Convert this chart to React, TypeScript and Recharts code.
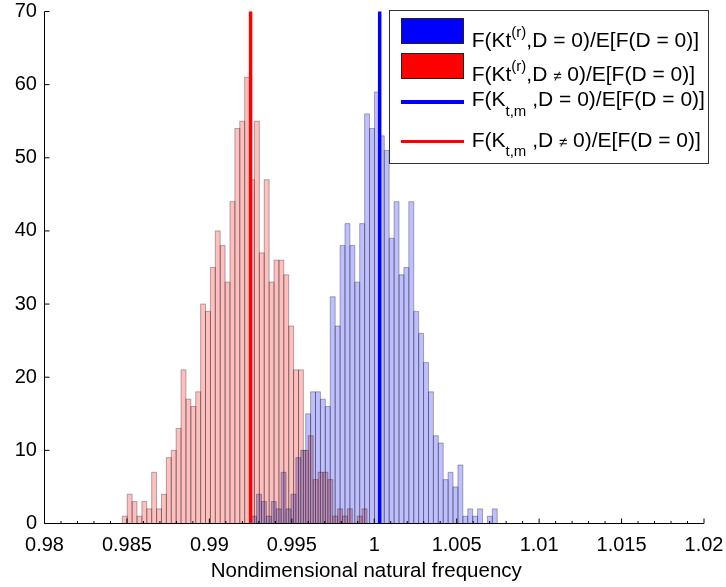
import React from "react";
import {
  ComposedChart,
  XAxis,
  YAxis,
  ReferenceArea,
  ReferenceLine,
  Legend,
} from "recharts";

// histogram counts, 50 equal-width bins per sample set
const redCounts = [
  1, 4, 3, 1, 3, 2, 7, 2, 4, 9, 10, 13, 21, 17, 16, 18, 30, 29, 35, 40, 38, 33,
  44, 54, 55, 61, 47, 55, 37, 47, 33, 36, 36, 34, 27, 21, 21, 10, 12, 6, 7, 7, 6,
  1, 2, 1, 2, 0, 1, 2,
];
const blueCounts = [
  1, 4, 3, 1, 3, 2, 7, 2, 4, 9, 10, 15, 18, 18, 17, 16, 31, 27, 38, 41, 38, 33,
  41, 56, 54, 59, 53, 51, 39, 44, 34, 35, 44, 29, 26, 22, 18, 12, 11, 6, 7, 5, 8,
  1, 2, 1, 2, 0, 1, 2,
];
// sample min / max of each set (hist edges)
const redRange = [0.98472, 0.99956];
const blueRange = [0.992565, 1.007459];
// F(K_t,m) values
const redMean = 0.9925;
const blueMean = 1.00033;

const majorTicks = [0.98, 0.985, 0.99, 0.995, 1, 1.005, 1.01, 1.015, 1.02];
const minorTicks = [
  0.981, 0.982, 0.983, 0.984, 0.986, 0.987, 0.988, 0.989, 0.991, 0.992, 0.993,
  0.994, 0.996, 0.997, 0.998, 0.999, 1.001, 1.002, 1.003, 1.004, 1.006, 1.007,
  1.008, 1.009, 1.011, 1.012, 1.013, 1.014, 1.016, 1.017, 1.018, 1.019,
];
const yTicks = [0, 10, 20, 30, 40, 50, 60, 70];

const FONT = '"Liberation Sans", Arial, Helvetica, sans-serif';

function toBins(counts: number[], range: number[]) {
  const [lo, hi] = range;
  const w = (hi - lo) / counts.length;
  return counts.map((n, i) => ({ x1: lo + i * w, x2: lo + (i + 1) * w, n }));
}

const redBins = toBins(redCounts, redRange);
const blueBins = toBins(blueCounts, blueRange);
const xTicks = [...majorTicks, ...minorTicks].sort((a, b) => a - b);

function XTick(props: any) {
  const { x, y, payload } = props;
  const major = majorTicks.includes(payload.value);
  return (
    <g>
      <line x1={x} x2={x} y1={y} y2={y - (major ? 5 : 2.5)} stroke="#000" />
      {major && (
        <text
          x={x}
          y={y + 27.5}
          textAnchor="middle"
          fontSize={20}
          fontFamily={FONT}
          fill="#000"
        >
          {String(payload.value)}
        </text>
      )}
    </g>
  );
}

function YTick(props: any) {
  const { x, y, payload } = props;
  return (
    <g>
      <line x1={x} x2={x + 5} y1={y} y2={y} stroke="#000" />
      <text
        x={x - 7.5}
        y={y + 5.5}
        textAnchor="end"
        fontSize={20}
        fontFamily={FONT}
        fill="#000"
      >
        {payload.value}
      </text>
    </g>
  );
}

function XLabel(props: any) {
  const { x, y, width } = props.viewBox;
  return (
    <text
      x={x + width / 2 - 8}
      y={y + 53}
      textAnchor="middle"
      fontSize={20.5}
      fontFamily={FONT}
      fill="#000"
    >
      Nondimensional natural frequency
    </text>
  );
}

function LegendBox() {
  const text: React.CSSProperties = {
    position: "absolute",
    left: 81.7,
    fontSize: 21,
    lineHeight: "21px",
    whiteSpace: "pre",
    color: "#000",
  };
  const sup: React.CSSProperties = { fontSize: 15, position: "relative", top: -10 };
  const sub: React.CSSProperties = { fontSize: 15, position: "relative", top: 9.5 };
  const neq: React.CSSProperties = { fontSize: 15 };
  const swatch: React.CSSProperties = {
    position: "absolute",
    left: 10.7,
    width: 63,
    height: 26,
    border: "1px solid #222",
    boxSizing: "border-box",
  };
  const line: React.CSSProperties = {
    position: "absolute",
    left: 10.7,
    width: 63,
    height: 3.5,
  };
  return (
    <div
      style={{
        position: "relative",
        width: 320,
        height: 154,
        boxSizing: "border-box",
        border: "1px solid #333",
        background: "#fff",
        fontFamily: FONT,
      }}
    >
      <div style={{ ...swatch, top: 7, background: "#0000ff" }} />
      <div style={{ ...text, top: 17.9 }}>
        F(Kt<span style={sup}>(r)</span>,D = 0)/E[F(D = 0)]
      </div>
      <div style={{ ...swatch, top: 41.5, background: "#ff0000" }} />
      <div style={{ ...text, top: 52.2 }}>
        F(Kt<span style={sup}>(r)</span>,D <span style={neq}>≠</span> 0)/E[F(D = 0)]
      </div>
      <div style={{ ...line, top: 89, background: "#0000ff" }} />
      <div style={{ ...text, top: 77.2 }}>
        F(K<span style={sub}>t,m</span> ,D = 0)/E[F(D = 0)]
      </div>
      <div style={{ ...line, top: 128.5, background: "#ff0000" }} />
      <div style={{ ...text, top: 117.9 }}>
        F(K<span style={sub}>t,m</span> ,D <span style={neq}>≠</span> 0)/E[F(D = 0)]
      </div>
    </div>
  );
}

export default function App() {
  return (
    <div
      style={{
        position: "absolute",
        left: 0,
        top: 0,
        width: 726,
        height: 587,
        background: "#fff",
      }}
    >
      <ComposedChart
        width={726}
        height={587}
        data={redBins}
        margin={{ top: 11.5, right: 22, bottom: 0, left: 0 }}
      >
        <XAxis
          type="number"
          dataKey="x1"
          domain={[0.98, 1.02]}
          allowDataOverflow
          ticks={xTicks}
          interval={0}
          height={63.5}
          tickLine={false}
          tickSize={0}
          tickMargin={0}
          axisLine={{ stroke: "#000" }}
          tick={(p: any) => <XTick {...p} />}
          label={(p: any) => <XLabel {...p} />}
        />
        <YAxis
          type="number"
          domain={[0, 70]}
          allowDataOverflow
          ticks={yTicks}
          interval={0}
          width={44.5}
          tickLine={false}
          tickSize={0}
          tickMargin={0}
          axisLine={{ stroke: "#000" }}
          tick={(p: any) => <YTick {...p} />}
        />
        {blueBins
          .filter((b) => b.n > 0)
          .map((b, i) => (
            <ReferenceArea
              key={"b" + i}
              x1={b.x1}
              x2={b.x2}
              y1={0}
              y2={b.n}
              fill="#0000ff"
              fillOpacity={0.25}
              stroke="#000"
              strokeOpacity={0.3}
              strokeWidth={1}
            />
          ))}
        {redBins
          .filter((b) => b.n > 0)
          .map((b, i) => (
            <ReferenceArea
              key={"r" + i}
              x1={b.x1}
              x2={b.x2}
              y1={0}
              y2={b.n}
              shape={(p: any) => (
                <rect
                  x={p.x}
                  y={p.y}
                  width={p.width}
                  height={p.height}
                  fill="#ff0000"
                  fillOpacity={0.25}
                  stroke="#000"
                  strokeOpacity={0.3}
                  strokeWidth={1}
                  style={{ mixBlendMode: "multiply" }}
                />
              )}
            />
          ))}
        <ReferenceLine x={redMean} stroke="#ff0000" strokeWidth={3.5} />
        <ReferenceLine x={blueMean} stroke="#0000ff" strokeWidth={3.5} />
        <Legend
          layout="vertical"
          align="center"
          verticalAlign="middle"
          wrapperStyle={{ left: 389, top: 10, width: 320, height: 154 }}
          content={() => <LegendBox />}
        />
      </ComposedChart>
    </div>
  );
}
